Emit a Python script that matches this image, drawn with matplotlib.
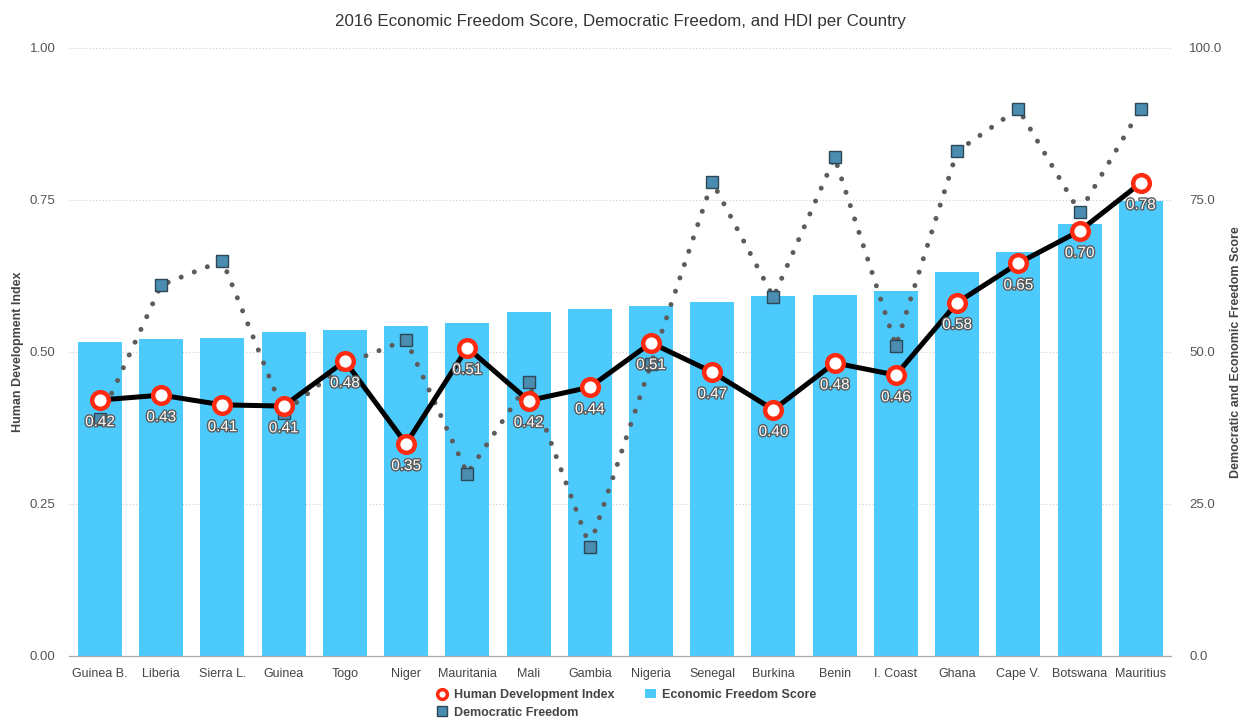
import matplotlib
matplotlib.use("Agg")
import matplotlib.pyplot as plt
import matplotlib.patheffects as pe
from matplotlib.lines import Line2D
from matplotlib.patches import Patch
import numpy as np

plt.rcParams["font.family"] = ["Liberation Sans", "DejaVu Sans"]

countries = ["Guinea B.", "Liberia", "Sierra L.", "Guinea", "Togo", "Niger", "Mauritania",
             "Mali", "Gambia", "Nigeria", "Senegal", "Burkina", "Benin", "I. Coast",
             "Ghana", "Cape V.", "Botswana", "Mauritius"]
econ_freedom = [51.6, 52.1, 52.3, 53.3, 53.6, 54.3, 54.8, 56.6, 57.1, 57.6, 58.2, 59.2,
                59.4, 60.0, 63.2, 66.4, 71.1, 74.8]
dem_freedom = [39, 61, 65, 40, 48, 52, 30, 45, 18, 48, 78, 59, 82, 51, 83, 90, 73, 90]
hdi = [0.421, 0.429, 0.413, 0.411, 0.485, 0.349, 0.507, 0.420, 0.442, 0.515, 0.467, 0.405,
       0.482, 0.462, 0.581, 0.646, 0.699, 0.778]
hdi_labels = ["0.42", "0.43", "0.41", "0.41", "0.48", "0.35", "0.51", "0.42", "0.44", "0.51",
              "0.47", "0.40", "0.48", "0.46", "0.58", "0.65", "0.70", "0.78"]

fig = plt.figure(figsize=(12.41, 7.18), dpi=100)
ax = fig.add_axes([0.0559, 0.0864, 0.888, 0.8468])
ax2 = ax.twinx()

x = np.arange(len(countries))

# right-scale content (bars + democratic freedom) on ax
ax.bar(x, econ_freedom, width=0.72, color="#4dcafc", zorder=2)
ax.plot(x, dem_freedom, color="#5c5c5c", linestyle=(0, (0.01, 2.8)),
        linewidth=3.6, dash_capstyle="round", zorder=3)
ax.plot(x, dem_freedom, linestyle="none", marker="s", markersize=8,
        markerfacecolor="#4a8db0", markeredgecolor="#2d4756",
        markeredgewidth=1.0, zorder=4)
ax.set_ylim(0, 100)
ax.set_xlim(-0.5, len(countries) - 0.5)
ax.yaxis.tick_right()
ax.yaxis.set_label_position("right")
ax.set_yticks([0, 25, 50, 75, 100])
ax.set_yticklabels(["0.0", "25.0", "50.0", "75.0", "100.0"])
ax.set_ylabel("Democratic and Economic Freedom Score", fontsize=9, fontweight="bold",
              color="#444444", labelpad=5)
ax.grid(axis="y", linestyle=(0, (1, 2)), color="#cccccc", linewidth=0.8, zorder=0)
ax.set_axisbelow(True)

# HDI on ax2 (drawn on top)
ax2.set_ylim(0, 1)
ax2.yaxis.tick_left()
ax2.yaxis.set_label_position("left")
ax2.set_yticks([0, 0.25, 0.5, 0.75, 1.0])
ax2.set_yticklabels(["0.00", "0.25", "0.50", "0.75", "1.00"])
ax2.set_ylabel("Human Development Index", fontsize=9, fontweight="bold",
               color="#444444", labelpad=4)
ax2.plot(x, hdi, color="black", linewidth=3.6, zorder=5,
         marker="o", markersize=12, markerfacecolor="white",
         markeredgecolor="#ff2a10", markeredgewidth=3.2)
for xi, yi, lab in zip(x, hdi, hdi_labels):
    ax2.annotate(lab, (xi, yi), xytext=(0, -16), textcoords="offset points",
                 ha="center", va="center", fontsize=11, color="white", zorder=6,
                 path_effects=[pe.withStroke(linewidth=2.0, foreground="#5a5a5a")])

for a in (ax, ax2):
    for s in ["top", "left", "right"]:
        a.spines[s].set_visible(False)
    a.spines["bottom"].set_color("#aaaaaa")
    a.tick_params(axis="y", length=0, labelsize=9.5, labelcolor="#555555")
ax2.tick_params(axis="y", pad=10)
ax.tick_params(axis="y", pad=13)
ax.set_xticks(x)
ax.set_xticklabels(countries)
ax.tick_params(axis="x", length=0, labelsize=9, labelcolor="#444444", pad=9)

fig.suptitle("2016 Economic Freedom Score, Democratic Freedom, and HDI per Country",
             y=0.98, fontsize=12.2, color="#333333")

h_hdi = Line2D([], [], linestyle="none", marker="o", markersize=7, markerfacecolor="white",
               markeredgecolor="#ff2a10", markeredgewidth=2.5)
h_dem = Line2D([], [], linestyle="none", marker="s", markersize=7,
               markerfacecolor="#4a8db0", markeredgecolor="#2d4756")
h_eco = Patch(facecolor="#4dcafc")
leg = fig.legend([h_hdi, h_dem, h_eco],
                 ["Human Development Index", "Democratic Freedom", "Economic Freedom Score"],
                 ncol=2, loc="center", bbox_to_anchor=(0.505, 0.0195), frameon=False,
                 fontsize=9, handlelength=0.9, handletextpad=0.5, columnspacing=2.4,
                 labelspacing=0.45, borderpad=0)
for t in leg.get_texts():
    t.set_fontweight("bold")
    t.set_color("#444444")

fig.savefig("out.png", dpi=100)
